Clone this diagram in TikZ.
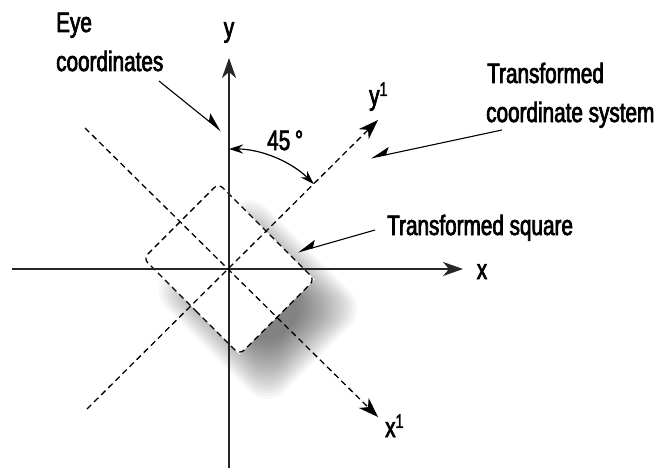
\documentclass[tikz,border=0pt]{standalone}
\usepackage{fontspec}
\setmainfont[FakeStretch=0.74,FakeBold=2.5]{Liberation Sans}
\usetikzlibrary{arrows.meta}
\begin{document}
\begin{tikzpicture}[x=1pt,y=-1pt,
  lbl/.style={inner sep=0pt, font=\fontsize{28}{34}\selectfont, anchor=base west},
  axis/.style={line width=1.6pt, black!85, -{Stealth[length=20pt,width=14pt,inset=6pt]}},
  daxis/.style={line width=1.3pt, dash pattern=on 6pt off 4pt, -{Stealth[length=20pt,width=14pt,inset=6pt]}},
  dsq/.style={line width=1.3pt, dash pattern=on 6pt off 4pt, rounded corners=6pt},
  note/.style={line width=1.1pt, -{Stealth[harpoon,length=18pt,width=14pt,inset=4pt]}},
  notes/.style={line width=1.1pt, -{Stealth[harpoon,swap,length=18pt,width=14pt,inset=4pt]}},
  arcarrow/.style={line width=1.2pt, {Stealth[length=14pt,width=9pt]}-{Stealth[length=14pt,width=9pt]}}
]
\useasboundingbox (0,0) rectangle (660,468);
\fill[white] (0,0) rectangle (660,468);
\coordinate (O) at (229,269);
% shadow and square
\begin{scope}[shift={(O)}, x={(0.7071pt,-0.7071pt)}, y={(0.7071pt,0.7071pt)}]
  \foreach \e in {22,20,...,-20}
    \fill[black, opacity=0.027, rounded corners=24pt] ({-20-\e},{-50-\e}) -- ({104+\e},{-50-\e}) -- ({104+\e},{48+\e}) -- ({-20-\e},{48+\e}) -- cycle;
  \fill[white] (0,-53) -- (68,-53) -- (68,53) -- (-68,53) -- (-68,-53) -- cycle;
  \draw[dsq] (0,-53) -- (68,-53) -- (68,53) -- (-68,53) -- (-68,-53) -- cycle;
\end{scope}
% axes
\coordinate (ybot) at (229,468); \coordinate (ytop) at (229,58);
\draw[axis] (ybot) -- (ytop);
\node[lbl, anchor=base] (ylab) at (229,37) {y};
\coordinate (xl) at (12,269); \coordinate (xr) at (463,269);
\draw[axis] (xl) -- (xr);
\node[lbl, anchor=base] (xlab) at (482,279) {x};
% transformed axes
\coordinate (yp0) at (87,409); \coordinate (yp1) at (378,120);
\draw[daxis] (yp0) -- (yp1);
\coordinate (xp0) at (85,128); \coordinate (xp1) at (378,417);
\draw[daxis] (xp0) -- (xp1);
\node[lbl] (yplab) at (369,105) {y\textsuperscript{1}};
\node[lbl] (xplab) at (385,437) {x\textsuperscript{1}};
% angle
\coordinate (a0) at (229,149);
\draw[arcarrow] (a0) arc[start angle=-90, end angle=-45, radius=120];
\node[lbl] (deg) at (267,150) {45\,°};
% annotations
\node[lbl] (eye1) at (56,32) {Eye};
\node[lbl] (eye2) at (56,71) {coordinates};
\coordinate (e0) at (159,81); \coordinate (e1) at (221,131);
\draw[note] (e0) -- (e1);
\node[lbl] (tcs1) at (487,83) {Transformed};
\node[lbl] (tcs2) at (486,122) {coordinate system};
\coordinate (t0) at (502,130); \coordinate (t1) at (371,158);
\draw[notes] (t0) -- (t1);
\node[lbl] (sq) at (387,235) {Transformed square};
\coordinate (s0) at (375,230); \coordinate (s1) at (298,252);
\draw[notes] (s0) -- (s1);
\end{tikzpicture}
\end{document}
